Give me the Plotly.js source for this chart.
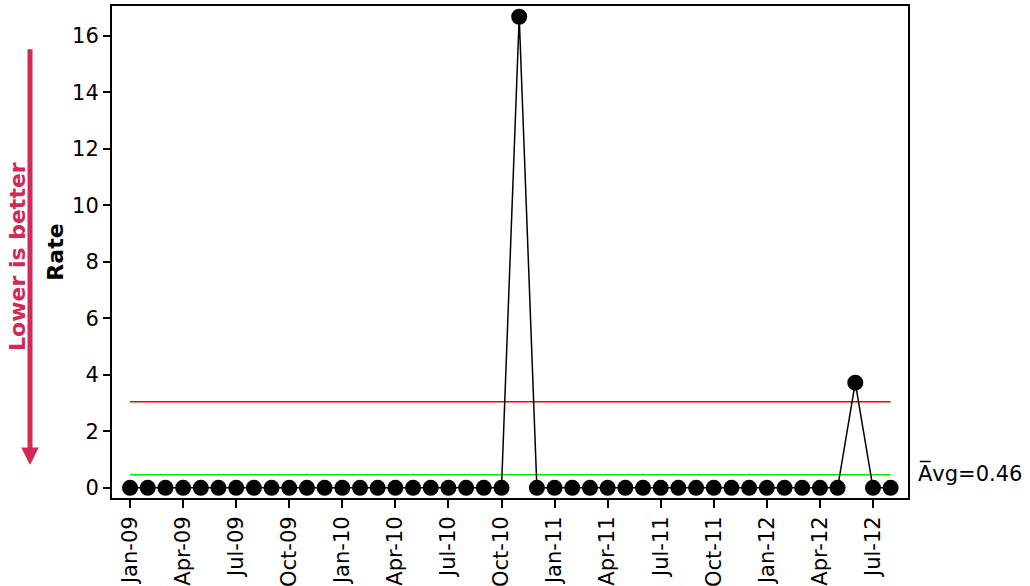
<!DOCTYPE html>
<html>
<head>
<meta charset="utf-8">
<script src="https://cdn.plot.ly/plotly-3.0.1.min.js"></script>
<style>html,body{margin:0;padding:0;background:#fff;}#chart{width:1030px;height:586px;}</style>
</head>
<body>
<div id="chart"></div>
<script>
const months = ["Jan-09","Feb-09","Mar-09","Apr-09","May-09","Jun-09","Jul-09","Aug-09","Sep-09","Oct-09","Nov-09","Dec-09",
"Jan-10","Feb-10","Mar-10","Apr-10","May-10","Jun-10","Jul-10","Aug-10","Sep-10","Oct-10","Nov-10","Dec-10",
"Jan-11","Feb-11","Mar-11","Apr-11","May-11","Jun-11","Jul-11","Aug-11","Sep-11","Oct-11","Nov-11","Dec-11",
"Jan-12","Feb-12","Mar-12","Apr-12","May-12","Jun-12","Jul-12","Aug-12"];
const rates = [0,0,0,0,0,0,0,0,0,0,0,0,
0,0,0,0,0,0,0,0,0,0,16.67,0,
0,0,0,0,0,0,0,0,0,0,0,0,
0,0,0,0,0,3.72,0,0];
const average = 0.46;
const upperLimit = 3.05;
const tickLabels = ["Jan-09","Apr-09","Jul-09","Oct-09","Jan-10","Apr-10","Jul-10","Oct-10","Jan-11","Apr-11","Jul-11","Oct-11","Jan-12","Apr-12","Jul-12"];

const idx = months.map((m,i)=>i);
const tickIdx = tickLabels.map(t=>months.indexOf(t));
const FONT = "DejaVu Sans";

const traces = [
  {x:[0, months.length-1], y:[upperLimit, upperLimit], mode:"lines", line:{color:"#ff0000", width:1.5}, hoverinfo:"skip"},
  {x:[0, months.length-1], y:[average, average], mode:"lines", line:{color:"#00ee00", width:1.5}, hoverinfo:"skip"},
  {x:idx, y:rates, mode:"lines+markers", line:{color:"#000", width:1.5}, marker:{color:"#000", size:16}}
];

const layout = {
  width:1030, height:586,
  margin:{l:112, r:122, t:6, b:88},
  showlegend:false,
  plot_bgcolor:"#fff", paper_bgcolor:"#fff",
  font:{family:FONT, size:21, color:"#000"},
  xaxis:{
    range:[-1.02, 43.98], tickvals:tickIdx, ticktext:tickLabels, tickangle:-90,
    showgrid:false, zeroline:false, showline:true, linecolor:"#000", linewidth:2, mirror:true,
    ticks:"outside", ticklen:8, tickwidth:2, tickcolor:"#000",
    tickfont:{family:FONT, size:21}
  },
  yaxis:{
    range:[-0.36, 17.05], tickvals:[0,2,4,6,8,10,12,14,16],
    showgrid:false, zeroline:false, showline:true, linecolor:"#000", linewidth:2, mirror:true,
    ticks:"outside", ticklen:7, tickwidth:2, tickcolor:"#000",
    tickfont:{family:FONT, size:21},
    title:{text:"<b>Rate</b>", font:{family:FONT, size:22}, standoff:2}
  },
  annotations:[
    {xref:"paper", yref:"y", x:1, y:average, xanchor:"left", yanchor:"middle", xshift:8, yshift:2,
     text:"A\u0305vg=0.46", showarrow:false, font:{family:FONT, size:21}},
    {xref:"paper", yref:"paper", x:-0.118, y:0.49, xanchor:"center", yanchor:"middle", textangle:-90,
     text:"<b>Lower is better</b>", showarrow:false, font:{family:FONT, size:22, color:"#d02a55"}},
    {xref:"paper", yref:"paper", x:-0.103, y:0.067, ax:-0.103, ay:0.915, axref:"paper", ayref:"paper",
     text:"", showarrow:true, arrowhead:2, arrowsize:0.7, arrowwidth:5, arrowcolor:"#d02a55"}
  ]
};
Plotly.newPlot("chart", traces, layout, {displayModeBar:false, staticPlot:true});
</script>
</body>
</html>
